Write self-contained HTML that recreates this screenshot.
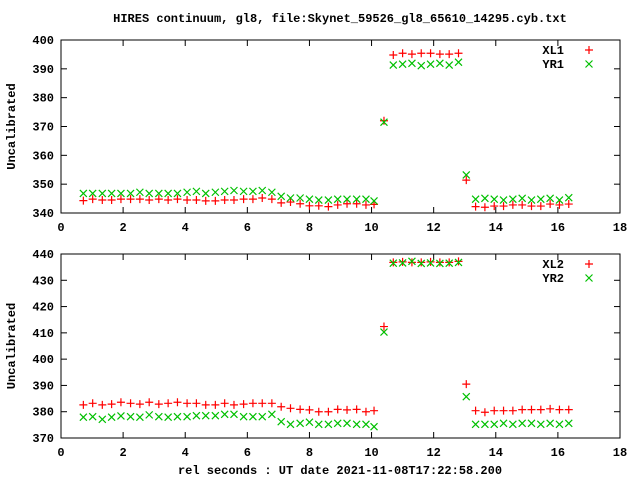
<!DOCTYPE html>
<html><head><meta charset="utf-8"><style>
body{margin:0;background:#fff;}
svg text{font-family:"Liberation Mono","DejaVu Sans Mono",monospace;font-size:12px;font-weight:bold;fill:#000;}
</style></head><body>
<svg id="c" width="640" height="480" xmlns="http://www.w3.org/2000/svg">
<text x="340" y="22" text-anchor="middle">HIRES continuum, gl8, file:Skynet_59526_gl8_65610_14295.cyb.txt</text>
<text x="340" y="474" text-anchor="middle">rel seconds : UT date 2021-11-08T17:22:58.200</text>
</svg>
<script>
const xs = [0.72,1.02,1.33,1.63,1.93,2.24,2.54,2.84,3.15,3.45,3.75,4.06,4.36,4.66,4.97,5.27,5.57,5.88,6.18,6.48,6.79,7.09,7.39,7.70,8.00,8.30,8.61,8.91,9.21,9.52,9.82,10.08,
 10.40,
 10.70,11.00,11.30,11.60,11.90,12.20,12.50,12.80,
 13.05,
 13.35,13.65,13.95,14.25,14.55,14.85,15.15,15.45,15.75,16.05,16.35];
const xl1 = [344.3,344.8,344.5,344.5,344.8,344.8,344.8,344.5,344.8,344.5,344.8,344.5,344.5,344.2,344.2,344.5,344.5,344.8,344.8,345.2,344.8,343.5,343.8,343.2,342.5,342.5,342.2,342.8,343.2,343.2,342.8,343.0,
 372.0,
 394.8,395.4,395.1,395.4,395.4,395.1,395.1,395.4,
 351.4,
 342.2,342.0,342.4,342.4,342.8,342.8,342.4,342.4,343.1,342.8,343.1];
const yr1 = [346.8,346.8,346.8,346.8,346.8,346.8,347.2,346.8,346.8,346.8,346.8,347.2,347.5,346.8,347.2,347.5,347.8,347.5,347.5,347.8,347.2,345.8,345.2,345.2,344.8,344.5,344.5,344.8,344.8,344.8,344.8,344.2,
 371.5,
 391.3,391.6,391.9,391.1,391.6,391.9,391.3,392.3,
 353.2,
 344.8,345.1,344.8,344.5,344.8,345.1,344.5,344.8,345.1,344.5,345.3];
const xl2 = [382.6,383.2,382.6,382.9,383.6,383.2,382.9,383.6,382.9,383.2,383.6,383.2,383.2,382.6,382.6,383.2,382.6,382.9,383.2,383.2,383.2,381.9,381.3,380.9,380.7,380.0,380.0,380.9,380.7,380.9,380.0,380.4,
 412.4,
 436.8,437.0,436.8,436.8,437.0,436.8,436.8,437.2,
 390.5,
 380.4,379.8,380.4,380.4,380.4,380.8,380.8,380.8,381.1,380.8,380.8];
const yr2 = [377.9,378.1,377.1,377.9,378.4,378.1,377.9,378.8,378.1,377.9,378.1,378.1,378.5,378.5,378.5,379.0,379.0,378.1,378.1,378.1,379.0,376.2,375.2,375.6,376.0,375.2,375.2,375.6,375.6,375.2,375.2,374.3,
 410.3,
 436.5,436.6,437.2,436.4,436.6,436.4,436.5,436.8,
 385.7,
 375.2,375.2,375.2,375.6,375.2,375.6,375.6,375.2,375.6,375.2,375.6];
const xTicks = [0,2,4,6,8,10,12,14,16,18];
const yTicks1 = [340,350,360,370,380,390,400];
const yTicks2 = [370,380,390,400,410,420,430,440];

const NS='http://www.w3.org/2000/svg';
const svg=document.getElementById('c');
function mk(tag,attrs,parent){const e=document.createElementNS(NS,tag);for(const k in attrs)e.setAttribute(k,attrs[k]);(parent||svg).appendChild(e);return e;}

function panel(p){
  const L=61,R=620,T=p.top,B=p.bottom;
  const sx=v=>L+(v-0)/(18-0)*(R-L);
  const sy=v=>B-(v-p.ymin)/(p.ymax-p.ymin)*(B-T);
  const g=mk('g',{});
  
  
  const fr=mk('rect',{x:L,y:T,width:R-L,height:B-T,fill:'none',stroke:'#000','stroke-width':1},g);
  
  
  xTicks.forEach(t=>{
    const x=sx(t);
    mk('line',{x1:x,y1:B,x2:x,y2:B-6,stroke:'#000'},g);
    mk('line',{x1:x,y1:T,x2:x,y2:T+6,stroke:'#000'},g);
    const tx=mk('text',{x:x,y:B+18,'text-anchor':'middle'},g);
    tx.textContent=t;
    
    
  });
  p.yticks.forEach(t=>{
    const y=sy(t);
    mk('line',{x1:L,y1:y,x2:L+6,y2:y,stroke:'#000'},g);
    mk('line',{x1:R,y1:y,x2:R-6,y2:y,stroke:'#000'},g);
    const tx=mk('text',{x:54,y:y+4,'text-anchor':'end'},g);
    tx.textContent=t;
    
    
  });
  const yl=mk('text',{x:15,y:(T+B)/2,'text-anchor':'middle',transform:'rotate(-90 15 '+((T+B)/2)+')'},g);
  yl.textContent='Uncalibrated';
  
  
  function plus(x,y,parent){mk('path',{d:`M${x-4} ${y}H${x+4}M${x} ${y-4}V${y+4}`,stroke:'#ff0000','stroke-width':1.2,fill:'none'},parent);}
  function cross(x,y,parent){mk('path',{d:`M${x-3.5} ${y-3.5}L${x+3.5} ${y+3.5}M${x-3.5} ${y+3.5}L${x+3.5} ${y-3.5}`,stroke:'#00c000','stroke-width':1.2,fill:'none'},parent);}
  const s1=mk('g',{},g);
  
  
  p.a.forEach((v,i)=>plus(sx(xs[i]),sy(v),s1));
  const s2=mk('g',{},g);
  
  
  p.b.forEach((v,i)=>cross(sx(xs[i]),sy(v),s2));
  const le=mk('g',{},g);
  
  
  const t1=mk('text',{x:564,y:T+14,'text-anchor':'end'},le);t1.textContent=p.n1;
  
  
  plus(589,T+10,le);
  const t2=mk('text',{x:564,y:T+28,'text-anchor':'end'},le);t2.textContent=p.n2;
  
  
  cross(589,T+24,le);
}
panel({name:'top-panel',top:40,bottom:213,ymin:340,ymax:400,yticks:yTicks1,a:xl1,b:yr1,n1:'XL1',n2:'YR1'});
panel({name:'bottom-panel',top:254,bottom:438,ymin:370,ymax:440,yticks:yTicks2,a:xl2,b:yr2,n1:'XL2',n2:'YR2'});
</script>
</body></html>
